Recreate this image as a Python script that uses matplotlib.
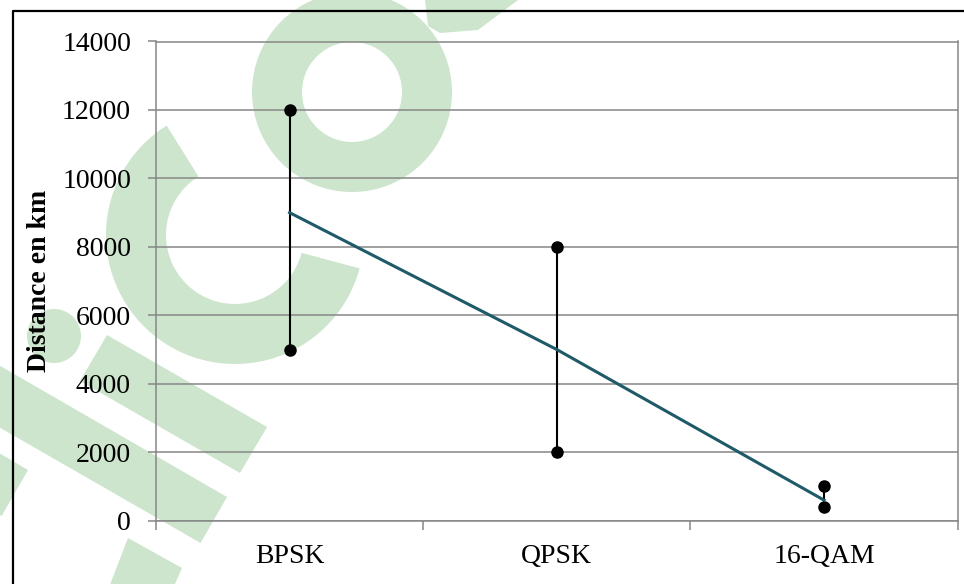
import matplotlib
matplotlib.use("Agg")
import matplotlib.pyplot as plt
from matplotlib.patches import Annulus, Wedge, Polygon, Circle

# Data: range of reachable distance per modulation scheme
categories = ["BPSK", "QPSK", "16-QAM"]
high = [12000, 8000, 1000]
low = [5000, 2000, 400]
typical = [9000, 5000, 600]
y_ticks = [0, 2000, 4000, 6000, 8000, 10000, 12000, 14000]

W, H = 964, 584
fig = plt.figure(figsize=(W / 100, H / 100), dpi=100)
fig.patch.set_facecolor("white")

# Background layer in pixel units (light green logo shapes + outer frame)
bg = fig.add_axes([0, 0, 1, 1], zorder=0)
bg.set_xlim(0, W)
bg.set_ylim(H, 0)
bg.axis("off")
wm = "#cde5cd"
bg.add_patch(Annulus((352, 92), 100, 50, color=wm, lw=0))
bg.add_patch(Polygon([(425, 0), (518, 0), (478, 30), (440, 33), (428, 26)], closed=True, color=wm, lw=0))
bg.add_patch(Wedge((235, 235), 129, 15, 238, width=60, color=wm, lw=0))
bg.add_patch(Circle((54, 336), 27, color=wm, lw=0))
bg.add_patch(Polygon([(107, 335), (267, 427), (240, 473), (80, 381)], closed=True, color=wm, lw=0))
bg.add_patch(Polygon([(-10, 360), (227, 497), (200.6, 543), (-10, 422)], closed=True, color=wm, lw=0))
bg.add_patch(Polygon([(-50, 424), (28, 470), (1.6, 516), (-50, 486)], closed=True, color=wm, lw=0))
bg.add_patch(Polygon([(128, 538), (182, 568), (168, 600), (104, 600)], closed=True, color=wm, lw=0))
bg.plot([12.5, 12.5, W + 5], [H + 5, 10.5, 10.5], color="black", lw=1.6, solid_capstyle="projecting")

# Main chart
ax = fig.add_axes([156 / W, 1 - 520.7 / H, (957.7 - 156) / W, (520.7 - 41.5) / H], zorder=1)
ax.set_facecolor("none")
x = list(range(len(categories)))

grid_c = "#868686"
ax.set_ylim(0, 14000)
ax.set_xlim(-0.5, len(categories) - 0.5)
ax.set_yticks(y_ticks)
ax.yaxis.grid(True, color=grid_c, lw=1.1)
ax.set_axisbelow(True)
for s in ax.spines.values():
    s.set_color(grid_c)
    s.set_linewidth(1.1)

# Category boundaries carry the ticks, labels sit at the centres
ax.set_xticks([i - 0.5 for i in range(len(categories) + 1)])
ax.set_xticklabels([])
ax.set_xticks(x, minor=True)
ax.set_xticklabels(categories, minor=True)
ax.tick_params(axis="x", which="major", length=6.5, width=1.1, color=grid_c, direction="out")
ax.tick_params(axis="x", which="minor", length=0, pad=16.5)
ax.tick_params(axis="y", length=6, width=1.1, color=grid_c, direction="out", pad=12)
for lab in ax.get_xticklabels(minor=True) + ax.get_yticklabels():
    lab.set_fontfamily("Liberation Serif")
    lab.set_fontsize(20)
    lab.set_color("black")

# High-low bars with end markers
ax.vlines(x, low, high, color="black", lw=1.5, zorder=3)
ax.plot(x, high, "o", color="black", ms=8, zorder=4)
ax.plot(x, low, "o", color="black", ms=8, zorder=4)
ax.plot(x, typical, color="#1f5a68", lw=2.2, zorder=5)

fig.text(40 / W, 1 - 281 / H, "Distance en km", rotation=90, ha="center", va="center",
         fontfamily="Liberation Serif", fontsize=20, fontweight="bold", zorder=2)

fig.savefig("out.png", dpi=100)
